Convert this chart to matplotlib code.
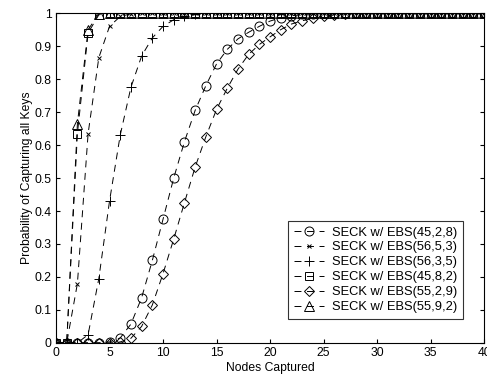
import numpy as np
import matplotlib
matplotlib.use("Agg")
import matplotlib.pyplot as plt

plt.rcParams['font.family'] = ['Liberation Sans', 'DejaVu Sans']
plt.rcParams['lines.scale_dashes'] = False

nodes = np.arange(0, 41)

ebs_45_2_8 = [0, 0, 0, 0, 0, 0.003, 0.015, 0.057, 0.137, 0.25, 0.375, 0.5, 0.61, 0.705,
              0.78, 0.846, 0.89, 0.922, 0.942, 0.96, 0.976, 0.986, 0.992, 0.996, 0.998] + [1] * 16
ebs_56_5_3 = [0, 0, 0.18, 0.635, 0.865, 0.96, 0.99, 0.998] + [1] * 33
ebs_56_3_5 = [0, 0, 0, 0.025, 0.195, 0.43, 0.63, 0.775, 0.87, 0.925, 0.96, 0.98, 0.99,
              0.996, 0.999] + [1] * 26
ebs_45_8_2 = [0, 0, 0.635, 0.94, 0.995] + [1] * 36
ebs_55_2_9 = [0, 0, 0, 0, 0, 0, 0.003, 0.014, 0.05, 0.115, 0.21, 0.315, 0.425, 0.533,
              0.625, 0.708, 0.772, 0.83, 0.875, 0.905, 0.928, 0.95, 0.967, 0.977, 0.984,
              0.99, 0.995, 0.998] + [1] * 13
ebs_55_9_2 = [0, 0, 0.665, 0.95, 0.998] + [1] * 36

labels = ['SECK w/ EBS(45,2,8)', 'SECK w/ EBS(56,5,3)', 'SECK w/ EBS(56,3,5)',
          'SECK w/ EBS(45,8,2)', 'SECK w/ EBS(55,2,9)', 'SECK w/ EBS(55,9,2)']
series = [ebs_45_2_8, ebs_56_5_3, ebs_56_3_5, ebs_45_8_2, ebs_55_2_9, ebs_55_9_2]
markers = ['o', 'x', '+', 's', 'D', '^']
msizes = [6.5, 3.5, 7.5, 6, 5, 7]

fig = plt.figure(figsize=(4.87, 3.76), dpi=100)
ax = fig.add_axes([0.115, 0.088, 0.879, 0.877])

for y, lab, m, ms in zip(series, labels, markers, msizes):
    ax.plot(nodes, y, linestyle=(0, (5, 4)), color='black', linewidth=0.7,
            marker=m, markersize=ms, markerfacecolor='none', markeredgecolor='black',
            markeredgewidth=0.7, label=lab)

ax.set_xlim(0, 40)
ax.set_ylim(0, 1)
ax.set_xticks(np.arange(0, 41, 5))
ax.set_yticks(np.round(np.arange(0, 1.01, 0.1), 1))
ax.set_yticklabels(['0', '0.1', '0.2', '0.3', '0.4', '0.5', '0.6', '0.7', '0.8', '0.9', '1'])
ax.tick_params(direction='in', top=True, right=True, labelsize=8.7, length=3, width=0.8, pad=3)
for s in ax.spines.values():
    s.set_linewidth(0.8)
ax.set_xlabel('Nodes Captured', fontsize=8.7, labelpad=2)
ax.set_ylabel('Probability of Capturing all Keys', fontsize=8.7, labelpad=1)

leg = ax.legend(loc='lower right', bbox_to_anchor=(0.95, 0.073), borderaxespad=0,
                fontsize=9.3, frameon=True, fancybox=False, edgecolor='black',
                handlelength=2.3, labelspacing=0.22, borderpad=0.45, handletextpad=0.6)
leg.get_frame().set_linewidth(0.8)

fig.savefig('out.png', dpi=100)
